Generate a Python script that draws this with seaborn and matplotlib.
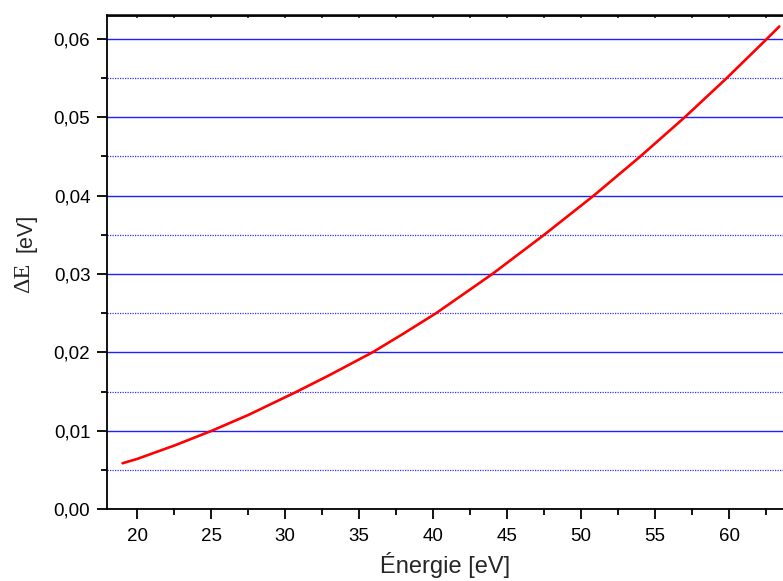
import matplotlib
matplotlib.use("Agg")
import matplotlib.pyplot as plt
import seaborn as sns
import pandas as pd
from matplotlib.ticker import MultipleLocator, FuncFormatter

energie = [19.0, 20.0, 22.5, 25.05, 27.5, 30.8, 33.0, 35.9, 38.0, 40.2, 44.0, 47.5, 50.85, 54.0, 57.0, 59.84, 62.55, 63.4]
delta_e = [0.00584, 0.0064, 0.0081, 0.0100, 0.0120, 0.0150, 0.0171, 0.0200, 0.0224, 0.0250, 0.0300, 0.0350, 0.0400, 0.0450, 0.0500, 0.0550, 0.0600, 0.0616]

df = pd.DataFrame({"E": energie, "dE": delta_e})

sns.set_theme(style="ticks")
plt.rcParams['font.family'] = ['Liberation Sans', 'DejaVu Sans']

fig = plt.figure(figsize=(7.83, 5.81), dpi=100)
ax = fig.add_axes([107/783, 72/581, 676/783, (509-15.5)/581])

sns.lineplot(data=df, x="E", y="dE", ax=ax, color="red", linewidth=1.9, zorder=5)

ax.set_xlim(17.95, 63.65)
ax.set_ylim(0, 0.063)

ax.xaxis.set_major_locator(MultipleLocator(5))
ax.xaxis.set_minor_locator(MultipleLocator(2.5))
ax.yaxis.set_major_locator(MultipleLocator(0.01))
ax.yaxis.set_minor_locator(MultipleLocator(0.005))
ax.yaxis.set_major_formatter(FuncFormatter(lambda v, p: f"{v:.2f}".replace('.', ',')))
ax.xaxis.set_major_formatter(FuncFormatter(lambda v, p: f"{v:.0f}"))

ax.grid(False)
ax.grid(which="major", axis="y", color="#2020ff", linewidth=1.0, linestyle="-")
ax.grid(which="minor", axis="y", color="#3030ff", linewidth=0.9, linestyle=(0, (1, 1)))

for side in ["left", "bottom", "top"]:
    ax.spines[side].set_visible(True)
    ax.spines[side].set_color("black")
    ax.spines[side].set_linewidth(1.3)
ax.spines["right"].set_visible(False)

ax.tick_params(axis="both", which="major", direction="out", length=7, width=1.3, labelsize=13.5, color="black", labelcolor="black")
ax.tick_params(axis="both", which="minor", direction="out", length=4, width=1.3, color="black")
ax.tick_params(axis="x", which="both", top=False, bottom=True)

sec = ax.secondary_xaxis("top")
sec.xaxis.set_major_locator(MultipleLocator(2.5))
sec.tick_params(direction="in", length=2.5, width=1.2, labeltop=False)
sec.set_xticklabels([])

ax.tick_params(axis="x", pad=7)
ax.tick_params(axis="y", pad=5)

ax.set_xlabel("Énergie [eV]", fontsize=17, labelpad=5)
ax.set_ylabel("")

fig.text(24/783, 1 - 278/581, "ΔE", rotation=90, ha="center", va="center",
         fontsize=17.5, family=["Liberation Serif", "DejaVu Serif"])
fig.text(26/783, 1 - 233/581, "[eV]", rotation=90, ha="center", va="center",
         fontsize=15.5)

fig.savefig("out.png", dpi=100, facecolor="white")
